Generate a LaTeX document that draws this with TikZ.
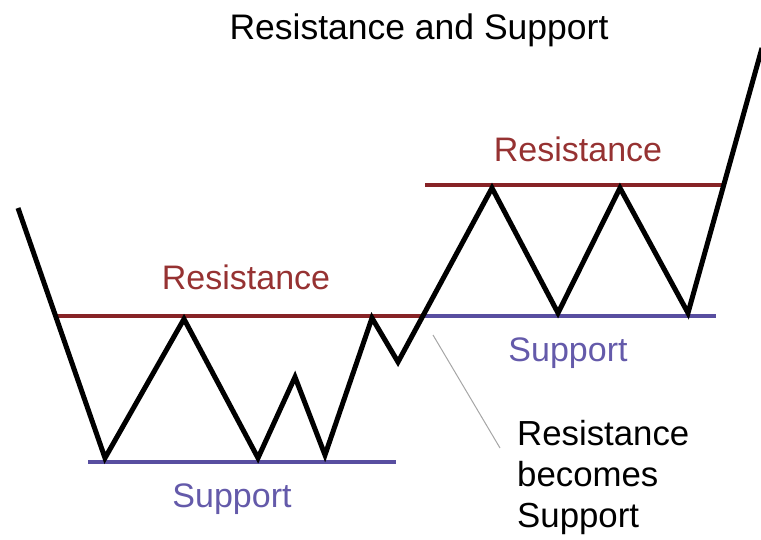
\documentclass[tikz,border=0pt]{standalone}
\usepackage{fontspec}
\setmainfont{Liberation Sans}
\definecolor{resred}{RGB}{135,35,38}
\definecolor{resredtxt}{RGB}{150,50,50}
\definecolor{supblue}{RGB}{88,78,160}
\definecolor{supbluetxt}{RGB}{100,90,170}
\begin{document}
\begin{tikzpicture}[x=1pt,y=-1pt,
  lbl/.style={font=\fontsize{34}{40}\selectfont, inner sep=0pt},
  biglbl/.style={font=\fontsize{35.5}{40}\selectfont, inner sep=0pt},
  notelbl/.style={font=\fontsize{34.8}{40}\selectfont, inner sep=0pt},
  resline/.style={draw=resred, line width=4pt},
  supline/.style={draw=supblue, line width=4pt},
  price/.style={draw=black, line width=5pt, line join=miter},
  pointer/.style={draw=gray!70, line width=1pt}]
\useasboundingbox (0,0) rectangle (761,540);
% level lines
\coordinate (r1a) at (55,316); \coordinate (r1b) at (423,316);
\coordinate (r2a) at (425,185); \coordinate (r2b) at (725,185);
\coordinate (s1a) at (88,462);  \coordinate (s1b) at (396,462);
\coordinate (s2a) at (423,316); \coordinate (s2b) at (716,316);
\draw[resline] (r1a) -- (r1b);
\draw[resline] (r2a) -- (r2b);
\draw[supline] (s1a) -- (s1b);
\draw[supline] (s2a) -- (s2b);
% price path
\coordinate (p0) at (18,208);
\coordinate (p1) at (105,458);
\coordinate (p2) at (184,319);
\coordinate (p3) at (258,458);
\coordinate (p4) at (295,377);
\coordinate (p5) at (325,455);
\coordinate (p6) at (372,318);
\coordinate (p7) at (398,362);
\coordinate (p8) at (492,188);
\coordinate (p9) at (558,313);
\coordinate (p10) at (620,188);
\coordinate (p11) at (688,313);
\coordinate (p12) at (762,48);
\draw[price] (p0) -- (p1) -- (p2) -- (p3) -- (p4) -- (p5) -- (p6) -- (p7) -- (p8) -- (p9) -- (p10) -- (p11) -- (p12);
% labels
\node[biglbl, anchor=base] (title) at (419,40) {Resistance and Support};
\node[lbl, anchor=base, text=resredtxt] (res1) at (246,290) {Resistance};
\node[lbl, anchor=base, text=resredtxt] (res2) at (578,162) {Resistance};
\node[lbl, anchor=base, text=supbluetxt] (sup1) at (232,507) {Support};
\node[lbl, anchor=base, text=supbluetxt] (sup2) at (568,361) {Support};
\node[notelbl, anchor=base west] (nb1) at (517,445) {Resistance};
\node[notelbl, anchor=base west] (nb2) at (517,486) {becomes};
\node[notelbl, anchor=base west] (nb3) at (517,527) {Support};
\coordinate (ptrA) at (433,335);
\coordinate (ptrB) at (500,448);
\draw[pointer] (ptrA) -- (ptrB);
\end{tikzpicture}
\end{document}
